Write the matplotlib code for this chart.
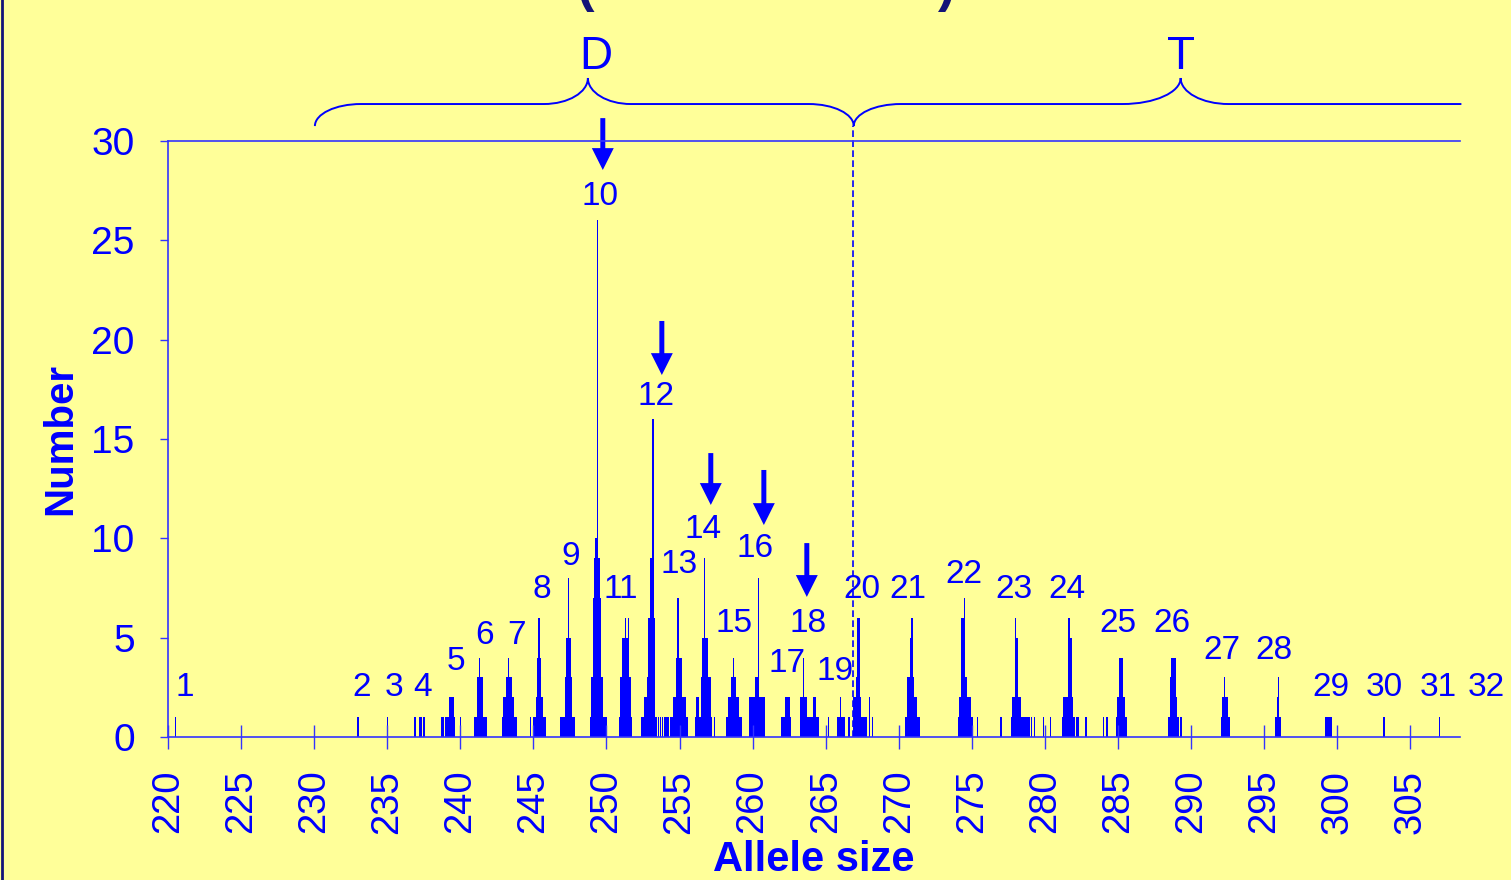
import matplotlib
matplotlib.use("Agg")
import matplotlib.pyplot as plt
from matplotlib.path import Path
from matplotlib.patches import PathPatch
from matplotlib.lines import Line2D

plt.rcParams['font.family'] = ['Liberation Sans', 'DejaVu Sans']

# allele size bins (bp) and counts, grouped by peak
sizes = [
    220.5,
    233.0,
    235.0,
    236.9, 237.25, 237.35, 237.5,
    238.7, 238.8, 239.0, 239.1, 239.2, 239.3, 239.4, 239.5, 239.6, 240.0,
    241.0, 241.1, 241.2, 241.3, 241.4, 241.5, 241.6, 241.7, 241.8,
    242.9, 243.0, 243.1, 243.2, 243.3, 243.4, 243.5, 243.6, 243.7, 243.8,
    244.8, 245.0, 245.1, 245.2, 245.3, 245.4, 245.5, 245.6, 245.7, 245.8,
    246.9, 247.0, 247.1, 247.2, 247.3, 247.4, 247.5, 247.6, 247.7, 247.8,
    248.9, 249.0, 249.1, 249.2, 249.3, 249.4, 249.5, 249.6, 249.7, 249.8, 249.9, 250.0,
    250.9, 251.0, 251.1, 251.2, 251.3, 251.4, 251.5, 251.6, 251.7,
    252.4, 252.5, 252.6, 252.7, 252.8, 252.9, 253.0, 253.1, 253.2, 253.3, 253.4,
    253.55, 253.7, 253.85, 254.0, 254.1, 254.2,
    254.4, 254.5, 254.6, 254.7, 254.8, 254.9, 255.0, 255.1, 255.2, 255.3, 255.4, 255.5,
    256.1, 256.2, 256.3, 256.4, 256.5, 256.6, 256.7, 256.8, 256.9, 257.0, 257.1, 257.2, 257.4,
    258.2, 258.3, 258.4, 258.5, 258.6, 258.7, 258.8, 258.9, 259.0, 259.1, 259.2,
    259.8, 259.9, 260.0, 260.1, 260.2, 260.3, 260.4, 260.5, 260.6, 260.7, 260.8,
    262.0, 262.1, 262.2, 262.3, 262.4, 262.5, 262.6,
    263.3, 263.4, 263.5, 263.6, 263.7, 263.8, 263.9, 264.0, 264.1, 264.2, 264.3, 264.4, 264.5,
    265.2, 265.8, 265.9, 266.0, 266.1, 266.2, 266.3, 266.6,
    266.9, 267.0, 267.1, 267.2, 267.3, 267.4, 267.5, 267.6, 267.7, 267.8, 268.0, 268.2,
    270.5, 270.6, 270.7, 270.8, 270.9, 271.0, 271.1, 271.2, 271.3, 271.4,
    274.1, 274.2, 274.3, 274.4, 274.5, 274.6, 274.7, 274.8, 274.9, 275.0, 275.4, 277.0,
    277.7, 277.8, 277.9, 278.0, 278.1, 278.2, 278.3, 278.4, 278.5, 278.6, 278.7, 278.8, 278.9,
    279.1, 279.3, 279.9, 280.4,
    281.2, 281.3, 281.4, 281.5, 281.6, 281.7, 281.8, 281.9, 282.0, 282.2, 282.3, 282.8,
    284.0, 284.2, 284.3, 284.9, 285.0, 285.1, 285.2, 285.3, 285.4, 285.5, 285.6,
    288.5, 288.6, 288.7, 288.8, 288.9, 289.0, 289.1, 289.3,
    292.1, 292.2, 292.3, 292.4, 292.5, 292.6,
    295.8, 295.9, 296.0, 296.1,
    299.2, 299.3, 299.4, 299.5, 299.6,
    303.2,
    307.0,
]
counts = [
    1,
    1,
    1,
    1, 1, 1, 1,
    1, 1, 1, 1, 1, 2, 2, 2, 1, 1,
    1, 1, 3, 4, 3, 3, 1, 1, 1,
    1, 2, 2, 3, 4, 3, 3, 2, 1, 1,
    1, 1, 1, 2, 4, 6, 4, 2, 1, 1,
    1, 1, 1, 3, 5, 8, 5, 3, 1, 1,
    1, 3, 7, 9, 10, 26, 9, 7, 3, 1, 1, 1,
    1, 3, 5, 5, 6, 5, 6, 3, 1,
    1, 1, 2, 2, 3, 6, 9, 9, 16, 6, 1,
    1, 1, 1, 1, 1, 1,
    1, 1, 2, 2, 4, 7, 4, 4, 2, 2, 2, 1,
    1, 2, 2, 1, 3, 5, 9, 5, 5, 3, 3, 1, 1,
    1, 1, 2, 2, 3, 4, 3, 2, 2, 1, 1,
    2, 2, 2, 2, 3, 3, 8, 2, 2, 2, 2,
    1, 1, 1, 2, 2, 2, 1,
    2, 2, 4, 2, 2, 1, 1, 1, 1, 2, 2, 1, 1,
    1, 1, 1, 2, 1, 1, 1, 1,
    2, 2, 3, 6, 6, 2, 1, 1, 1, 1, 2, 1,
    1, 3, 3, 5, 6, 3, 2, 2, 1, 1,
    1, 2, 6, 6, 7, 3, 2, 2, 2, 1, 1, 1,
    1, 2, 2, 6, 5, 2, 2, 1, 1, 1, 1, 1, 1,
    1, 1, 1, 1,
    1, 2, 2, 2, 6, 6, 5, 2, 1, 1, 1, 1,
    1, 1, 1, 1, 2, 4, 4, 4, 2, 1, 1,
    1, 3, 4, 4, 4, 2, 1, 1,
    1, 2, 3, 2, 2, 1,
    1, 2, 3, 1,
    1, 1, 1, 1, 1,
    1,
    1,
]

# peak numbers and where they are written
peak_labels = [str(i) for i in range(1, 33)]
label_x = [221.16, 233.27, 235.46, 237.44, 239.70, 241.68, 243.87, 245.58, 247.57, 249.55,
           250.98, 253.38, 254.95, 256.59, 258.71, 260.15, 262.34, 263.78, 265.62, 267.47,
           270.62, 274.45, 277.87, 281.49, 284.98, 288.67, 292.09, 295.65, 299.55, 303.24,
           306.94, 310.22]
label_y = [2.62, 2.62, 2.62, 2.62, 3.93, 5.23, 5.23, 7.55, 9.21, 27.33,
           7.55, 17.26, 8.81, 10.57, 5.84, 9.61, 3.82, 5.84, 3.42, 7.55,
           7.55, 8.30, 7.55, 7.55, 5.84, 5.84, 4.48, 4.48, 2.62, 2.62,
           2.62, 2.62]

# arrows over selected peaks: x, tail y, tip y
arrow_x = [249.75, 253.79, 257.14, 260.77, 263.71]
arrow_top = [31.15, 20.94, 14.29, 13.44, 9.76]
arrow_tip = [28.54, 18.22, 11.68, 10.67, 7.05]

BG = '#FFFF99'
BLUE = '#0000FF'
AXC = '#3333FF'

fig = plt.figure(figsize=(15.11, 8.80), dpi=100, facecolor=BG)
ax = fig.add_axes([0.1112, 0.1625, 0.8550, 0.6773])
ax.set_facecolor(BG)

ax.bar(sizes, counts, width=0.1, color=BLUE, linewidth=0, align='center')

ax.set_xlim(220, 308.4)
ax.set_ylim(0, 30)
ax.set_xticks(range(220, 310, 5))
ax.set_yticks(range(0, 35, 5))
ax.tick_params(axis='x', direction='inout', length=17, width=1, color=AXC,
               labelsize=27.5, labelcolor=BLUE, labelrotation=90, pad=15)
ax.tick_params(axis='y', direction='out', length=6, width=1, color=AXC,
               labelsize=28, labelcolor=BLUE, pad=18)
for s in ['left', 'bottom', 'top']:
    ax.spines[s].set_color(AXC)
    ax.spines[s].set_linewidth(1.2)
ax.spines['right'].set_visible(False)

ax.set_ylabel('Number', fontsize=29, fontweight='bold', color=BLUE)
ax.yaxis.label.set_va('center')
ax.yaxis.set_label_coords(-0.0836, 0.5)
ax.set_xlabel('Allele size', fontsize=30, fontweight='bold', color=BLUE)
ax.xaxis.label.set_va('center')
ax.xaxis.set_label_coords(0.5, -0.206)

for t, x, y in zip(peak_labels, label_x, label_y):
    ax.text(x, y - 0.12, t, fontsize=24, color=BLUE, ha='center', va='center', clip_on=False)

for x, y0, y1 in zip(arrow_x, arrow_top, arrow_tip):
    ax.arrow(x, y0, 0, y1 - y0, width=0.34, head_width=1.5, head_length=1.1,
             length_includes_head=True, color=BLUE, linewidth=0, clip_on=False)

# dashed divider between the D and T ranges
ax.plot([266.85, 266.85], [0, 30.75], color=BLUE, lw=1.2, ls=(0, (4, 2)), clip_on=False)

# curly braces over the two ranges
k = 0.5523
y_end, y_mid, y_tip = 30.75, 31.86, 33.17


def from_vertical(p0, p1):
    return [(p0[0], p0[1] + k * (p1[1] - p0[1])), (p1[0] - k * (p1[0] - p0[0]), p1[1]), p1]


def to_vertical(p0, p1):
    return [(p0[0] + k * (p1[0] - p0[0]), p0[1]), (p1[0], p1[1] - k * (p1[1] - p0[1])), p1]


verts = [(230.05, y_end)]
codes = [Path.MOVETO]


def add_curve(pts):
    verts.extend(pts)
    codes.extend([Path.CURVE4] * 3)


def add_line(p):
    verts.append(p)
    codes.append(Path.LINETO)


add_curve(from_vertical(verts[-1], (233.2, y_mid)))
add_line((245.72, y_mid))
add_curve(to_vertical(verts[-1], (248.73, y_tip)))
add_curve(from_vertical(verts[-1], (251.67, y_mid)))
add_line((263.84, y_mid))
add_curve(to_vertical(verts[-1], (266.92, y_end)))
add_curve(from_vertical(verts[-1], (270.14, y_mid)))
add_line((285.32, y_mid))
add_curve(to_vertical(verts[-1], (289.29, y_tip)))
add_curve(from_vertical(verts[-1], (292.57, y_mid)))
add_line((308.5, y_mid))
ax.add_patch(PathPatch(Path(verts, codes), fill=False, edgecolor=BLUE, lw=1.4, clip_on=False))

ax.text(249.27, 34.25, 'D', fontsize=33, color=BLUE, ha='center', va='center', clip_on=False)
ax.text(289.29, 34.25, 'T', fontsize=33, color=BLUE, ha='center', va='center', clip_on=False)

# title brackets, cut off at the top edge as on the slide
fig.text(0.3875, 0.999, '(', fontsize=38, fontweight='bold', color='#141478', ha='center', va='baseline')
fig.text(0.6265, 0.999, ')', fontsize=38, fontweight='bold', color='#141478', ha='center', va='baseline')
fig.add_artist(Line2D([0.001, 0.001], [0, 1], transform=fig.transFigure, color='#141478', lw=2))

fig.savefig('out.png', dpi=100, facecolor=BG)
